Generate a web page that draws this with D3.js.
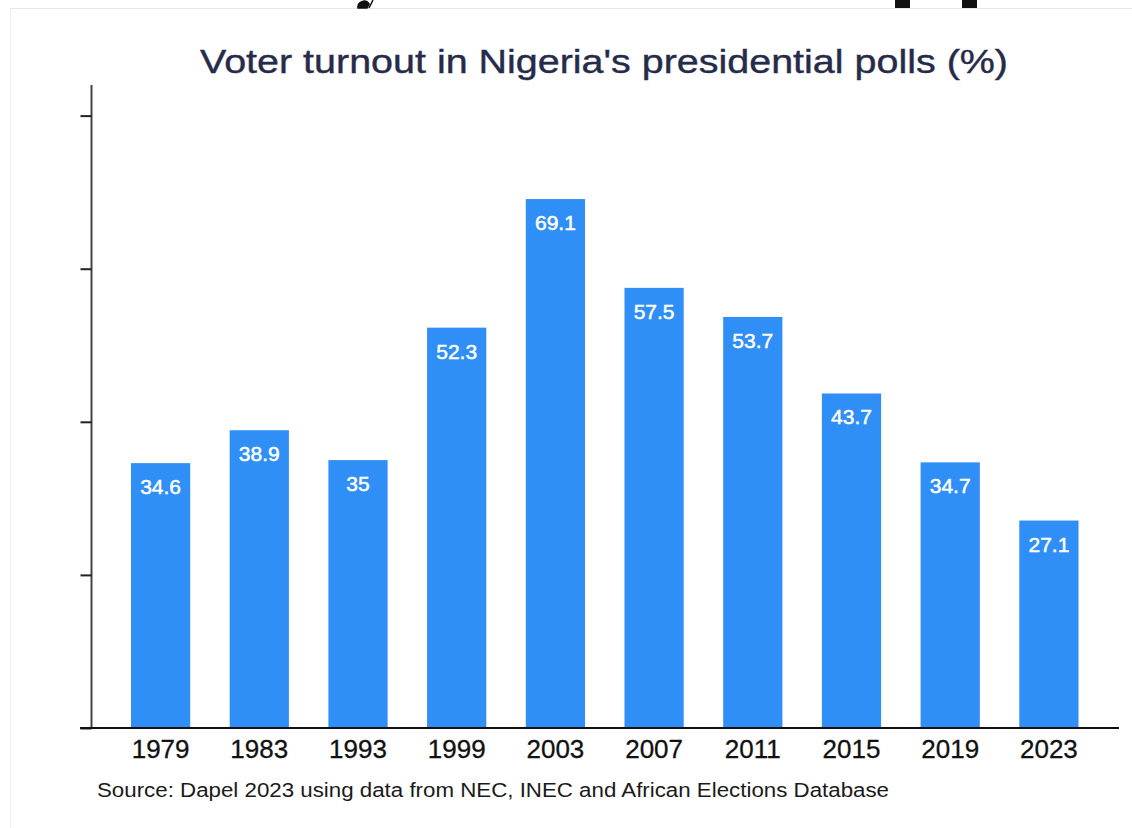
<!DOCTYPE html>
<html>
<head>
<meta charset="utf-8">
<script src="https://cdn.jsdelivr.net/npm/d3@7"></script>
<style>
  html, body { margin: 0; padding: 0; background: #ffffff; }
  svg { display: block; font-family: "Liberation Sans", Arial, Helvetica, sans-serif; }
</style>
</head>
<body>
<div id="chart"></div>
<script>
// voter turnout bar chart, d3 v7

var years = ["1979", "1983", "1993", "1999", "2003", "2007", "2011", "2015", "2019", "2023"];
var turnout = [34.6, 38.9, 35, 52.3, 69.1, 57.5, 53.7, 43.7, 34.7, 27.1];
var yTicks = [0, 20, 40, 60, 80];

var title = "Voter turnout in Nigeria's presidential polls (%)";
var source = "Source: Dapel 2023 using data from NEC, INEC and African Elections Database";

var data = years.map(function (y, i) {
  return {name: y, value: turnout[i]};
});

var width = 1132, height = 828;
var margin = {top: 85, right: 14, bottom: 100, left: 91.5};
var barColour = "#2f8ff6";

var svg = d3.select("#chart").append("svg")
  .attr("width", width)
  .attr("height", height);

// screenshot frame bits
svg.append("line")
  .attr("x1", 10).attr("x2", width)
  .attr("y1", 8.5).attr("y2", 8.5)
  .style("stroke", "#e6e6e6");
svg.append("line")
  .attr("x1", 10.5).attr("x2", 10.5)
  .attr("y1", 8).attr("y2", height)
  .style("stroke", "#efefef");
svg.append("rect").attr("x", 895).attr("y", 0).attr("width", 15).attr("height", 8).attr("fill", "#111");
svg.append("rect").attr("x", 962).attr("y", 0).attr("width", 15).attr("height", 8).attr("fill", "#111");
svg.append("path")
  .attr("d", "M358,8 A6,6 0 0 1 369,4 L367,8 Z M373,0 L369,8")
  .attr("fill", "#111").style("stroke", "#111").style("stroke-width", 1.5);

var plotBottom = height - margin.bottom;
var plotRight = width - margin.right;

//scales
var x = d3.scaleBand()
  .domain(years)
  .range([margin.left, plotRight])
  .padding(0.4);

var y = d3.scaleLinear()
  .domain([0, 84])
  .range([plotBottom, margin.top]);

//y axis, labels hidden
var gy = svg.append("g")
  .attr("transform", "translate(" + margin.left + ",0)")
  .call(d3.axisLeft(y).tickValues(yTicks).tickSize(11).tickFormat(""));
gy.select(".domain").style("stroke", "#444").style("stroke-width", 2).attr("d", "M0," + margin.top + "V" + plotBottom);
gy.selectAll(".tick line").style("stroke", "#222").style("stroke-width", 2);

//bars
var bars = svg.append("g").selectAll("g")
  .data(data)
  .enter()
  .append("g");

bars.append("rect")
  .attr("x", function (d) { return x(d.name); })
  .attr("y", function (d) { return y(d.value); })
  .attr("width", x.bandwidth())
  .attr("height", function (d) { return plotBottom - y(d.value); })
  .attr("fill", barColour);

bars.append("text")
  .attr("x", function (d) { return x(d.name) + x.bandwidth() / 2; })
  .attr("y", function (d) { return y(d.value) + 31; })
  .attr("text-anchor", "middle")
  .style("fill", "#ffffff")
  .style("stroke", "#ffffff")
  .style("stroke-width", 0.5)
  .style("font-size", "21px")
  .text(function (d) { return d.value; });

//x axis
var gx = svg.append("g")
  .attr("transform", "translate(0," + plotBottom + ")")
  .call(d3.axisBottom(x).tickSize(0).tickPadding(12));
gx.select(".domain").style("stroke", "#111").style("stroke-width", 2).attr("d", "M80,0H" + (plotRight + 1));
gx.selectAll(".tick text")
  .style("font-size", "26px")
  .style("fill", "#111")
  .style("stroke", "#111")
  .style("stroke-width", 0.3)
  .style("font-family", "'Liberation Sans', Arial, sans-serif");

//title and source
svg.append("text")
  .attr("x", 200)
  .attr("y", 73)
  .attr("textLength", 808)
  .attr("lengthAdjust", "spacingAndGlyphs")
  .style("font-size", "34px")
  .style("fill", "#262b4a")
  .style("stroke", "#262b4a")
  .style("stroke-width", 0.4)
  .text(title);

svg.append("text")
  .attr("x", 97)
  .attr("y", 797)
  .attr("textLength", 792)
  .attr("lengthAdjust", "spacingAndGlyphs")
  .style("font-size", "20px")
  .style("fill", "#1a1a1a")
  .text(source);
</script>
</body>
</html>
